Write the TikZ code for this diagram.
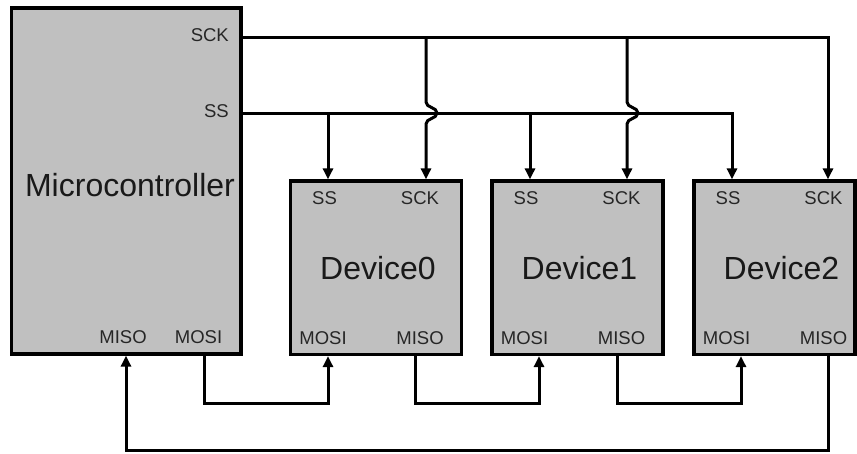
\documentclass[tikz,border=0pt]{standalone}
\usepackage{fontspec}
\setmainfont{Liberation Sans}
\usetikzlibrary{arrows.meta}
\definecolor{boxgray}{RGB}{192,192,192}
\begin{document}
\begin{tikzpicture}[x=1pt,y=-1pt,
  box/.style={draw=black, fill=boxgray, line width=3.2pt, rectangle, inner sep=0pt},
  port/.style={font=\fontsize{18.5}{18.5}\selectfont, inner sep=0pt, text=black!85},
  title/.style={font=\fontsize{32}{32}\selectfont, inner sep=0pt, text=black!90},
  wire/.style={line width=3pt},
  arr/.style={wire, -{Triangle[length=11pt,width=10pt]}}]
\useasboundingbox (0,0) rectangle (857,453);
% boxes
\node[box, minimum width=229.5pt, minimum height=346pt] (mc) at (126.25,181) {};
\node[box, minimum width=171pt, minimum height=173.5pt] (d0) at (376,267.75) {};
\node[box, minimum width=171pt, minimum height=173.5pt] (d1) at (577.5,267.75) {};
\node[box, minimum width=161pt, minimum height=173.5pt] (d2) at (774.5,267.75) {};
% microcontroller labels
\node[port, anchor=east] (mcsck) at (229,35) {SCK};
\node[port, anchor=east] (mcss) at (229,111) {SS};
\node[title] (mct) at (130,185.5) {Microcontroller};
\node[port] (mcmiso) at (123,337.5) {MISO};
\node[port] (mcmosi) at (198.5,337.5) {MOSI};
% device labels
\foreach \i/\dx in {0/0,1/201.5,2/403.5}{
  \node[port] (d\i ss) at (324.5+\dx,198) {SS};
  \node[port] (d\i sck) at (420+\dx,198) {SCK};
  \node[title] (d\i t) at (378+\dx,268) {Device\i};
  \node[port] (d\i mosi) at (323+\dx,338) {MOSI};
  \node[port] (d\i miso) at (420+\dx,338) {MISO};
}
% SCK bus
\coordinate (sckR) at (828,37);
\coordinate (j0) at (426,37);
\coordinate (j1) at (627,37);
\draw[arr] (mc.east |- sckR) -- (sckR) -- (sckR |- d2.north);
\draw[arr] (j0) -- (426,102) .. controls (426,108) and (437,107) .. (437,113)
  .. controls (437,119) and (426,118) .. (426,124) -- (j0 |- d0.north);
\draw[arr] (j1) -- (627,102) .. controls (627,108) and (638,107) .. (638,113)
  .. controls (638,119) and (627,118) .. (627,124) -- (j1 |- d1.north);
% SS bus
\coordinate (ssR) at (732,113);
\coordinate (s0) at (328,113);
\coordinate (s1) at (530,113);
\draw[arr] (mc.east |- ssR) -- (ssR) -- (ssR |- d2.north);
\draw[arr] (s0) -- (s0 |- d0.north);
\draw[arr] (s1) -- (s1 |- d1.north);
% MOSI/MISO chain
\coordinate (a0) at (204,403); \coordinate (b0) at (328,403);
\coordinate (a1) at (415,403); \coordinate (b1) at (539,403);
\coordinate (a2) at (617,403); \coordinate (b2) at (741,403);
\draw[arr] (a0 |- mc.south) -- (a0) -- (b0) -- (b0 |- d0.south);
\draw[arr] (a1 |- d0.south) -- (a1) -- (b1) -- (b1 |- d1.south);
\draw[arr] (a2 |- d1.south) -- (a2) -- (b2) -- (b2 |- d2.south);
% return to microcontroller MISO
\coordinate (r1) at (828,450); \coordinate (r2) at (126,450);
\draw[arr] (r1 |- d2.south) -- (r1) -- (r2) -- (r2 |- mc.south);
\end{tikzpicture}
\end{document}
